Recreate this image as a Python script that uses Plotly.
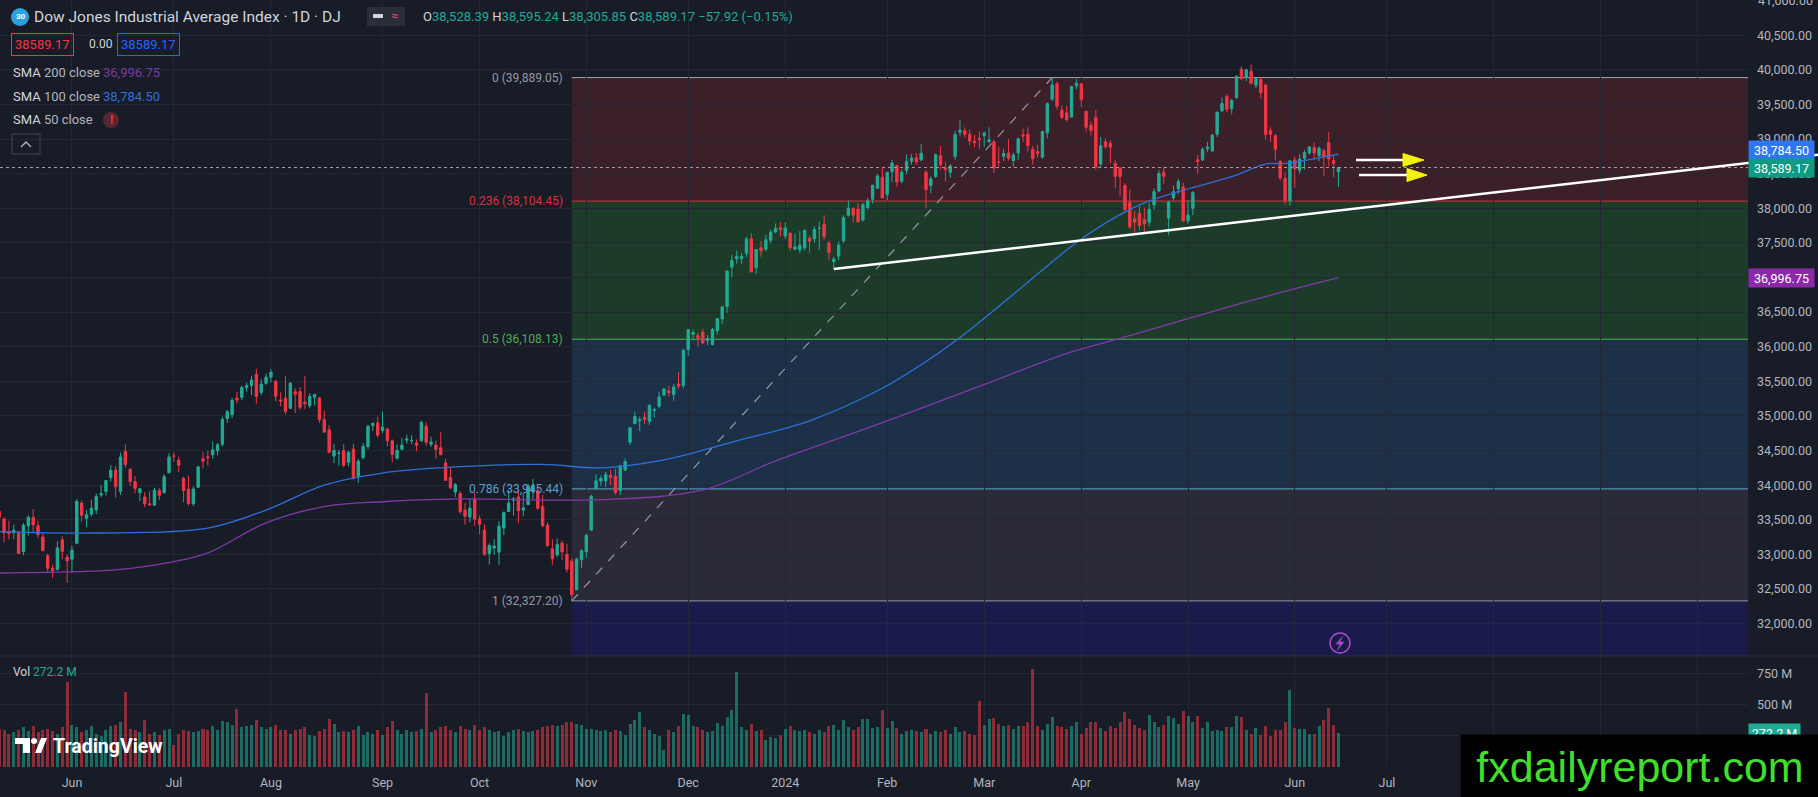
import pandas as pd
import plotly.graph_objects as go

# canvas / plot area in pixels
W, H = 1818, 797
PW, PH = 1748, 767

BG = "#181c27"
GRID = "#232734"
AXIS_TXT = "#b2b5be"
UP = "#22ab94"
DOWN = "#f23645"
FONT = "Roboto, 'Open Sans', sans-serif"

# ---- data -----------------------------------------------------------------
holidays = ["2023-05-29", "2023-06-19", "2023-07-04", "2023-09-04", "2023-11-23",
            "2023-12-25", "2024-01-01", "2024-01-15", "2024-02-19", "2024-03-29",
            "2024-05-27"]
future_holidays = ["2024-06-19", "2024-07-04", "2024-09-02"]

opens = [
    33620, 33511, 33328, 33314, 33310, 33042, 33412, 33533, 33412, 33250, 32980, 32800, 32780, 33210, 32960,
    32930, 33160, 33740, 33520, 33580, 33640, 33860, 33910, 34110, 34220, 33910, 34490, 34230, 34050, 33890, 33830, 33730, 33710, 33920, 33890, 34180,
    34420, 34360, 34100, 33940, 33730, 33970, 34380, 34410, 34440, 34500, 34590, 34960, 35020, 35260, 35270, 35410, 35440, 35600, 35340, 35470,
    35560, 35500, 35230, 35260, 35110, 35350, 35350, 35200, 35150, 35270, 35260, 34950, 34800, 34420, 34460, 34500, 34330, 34520, 34120, 34400, 34560, 34860, 34900,
    34790, 34810, 34640, 34390, 34520, 34650, 34640, 34610, 34640, 34850, 34590, 34580, 34540, 34320, 34110, 33900, 33880, 33640, 33540, 33800,
    33510, 33350, 33010, 33090, 33030, 33380, 33620, 33780, 33830, 33640, 33720, 33900, 33920, 33690, 33420, 33080, 32990, 33160, 33000, 32900, 32490, 32920,
    33040, 33350, 33950, 34060, 34060, 34140, 34130, 33920, 34220, 34620, 34890, 34930, 34980, 34920, 35080, 35140, 35300, 35360, 35310, 35460, 35440,
    35960, 36180, 36160, 36210, 36090, 36030, 36230, 36400, 36580, 37150, 37270, 37270, 37350, 37560, 37140, 37430, 37410, 37540, 37660, 37720,
    37600, 37640, 37410, 37400, 37430, 37570, 37560, 37710, 37770, 37500, 37230, 37310, 37530, 37900, 38000, 37990, 37830, 38010, 38130, 38290, 38450,
    38200, 38530, 38620, 38390, 38550, 38680, 38730, 38700, 38520, 38330, 38460, 38760, 38580, 38520, 38750, 39100, 39120, 39070, 38970, 39010,
    39050, 38960, 38960, 38670, 38750, 38800, 38690, 38800, 39060, 39070, 38850, 38820, 38740, 39090, 39580, 39800, 39420, 39380, 39320, 39770,
    39800, 39400, 39200, 39310, 38640, 38960, 38940, 38650, 38580, 38330, 38080, 37850, 37930, 37840, 37800, 38050, 38250, 38520, 37860, 38150, 38280, 38310,
    37820, 38000, 38700, 38700, 38860, 38830, 39070, 39410, 39620, 39440, 39600, 40010, 39890, 39980, 39780, 39860, 39780, 39120, 39050, 38680, 38430, 38110,
    38700, 38550, 38720, 38800, 38880, 38760, 38830, 38950, 38690, 38528.39,
]
highs = [
    33645, 33538, 33487, 33430, 33342, 33453, 33565, 33655, 33485, 33310, 33010, 32855, 33190, 33260, 33000,
    33120, 33800, 33780, 33640, 33790, 33880, 34000, 34070, 34290, 34280, 34470, 34590, 34240, 34130, 33960, 33900, 33910, 33960, 33960, 34160, 34460,
    34470, 34410, 34120, 34140, 33980, 34280, 34480, 34500, 34630, 34610, 34990, 35090, 35260, 35350, 35440, 35480, 35580, 35680, 35530, 35610,
    35680, 35520, 35340, 35580, 35490, 35400, 35420, 35580, 35330, 35320, 35270, 35080, 34870, 34600, 34510, 34590, 34500, 34600, 34380, 34610, 34870, 34910, 34990,
    35070, 34830, 34660, 34590, 34680, 34730, 34720, 34660, 34930, 34910, 34700, 34640, 34770, 34380, 34250, 34030, 33910, 33740, 33800, 33890,
    33560, 33430, 33160, 33220, 33480, 33620, 33930, 33830, 33930, 33890, 34020, 34090, 33980, 33860, 33460, 33220, 33230, 33200, 33150, 32950, 32950, 33070,
    33300, 33860, 34160, 34140, 34190, 34220, 34240, 34290, 34390, 34840, 35060, 34990, 35060, 35170, 35120, 35350, 35400, 35430, 35460, 35630, 35960,
    36260, 36250, 36200, 36260, 36170, 36270, 36410, 36580, 37110, 37330, 37390, 37360, 37590, 37640, 37410, 37530, 37620, 37690, 37780, 37800,
    37800, 37650, 37630, 37670, 37690, 37600, 37740, 37810, 37900, 37530, 37300, 37520, 37900, 38110, 38010, 38070, 38080, 38150, 38340, 38500, 38580,
    38530, 38700, 38630, 38560, 38780, 38780, 38800, 38930, 38550, 38460, 38790, 38900, 38670, 38640, 39120, 39280, 39170, 39140, 39060, 39110,
    39110, 39170, 38990, 38890, 38860, 39000, 38800, 39020, 39150, 39170, 38900, 38920, 39120, 39530, 39889.05, 39830, 39490, 39480, 39770, 39870,
    39810, 39410, 39260, 39420, 39030, 39010, 38980, 38700, 38600, 38360, 38270, 37960, 38030, 38010, 38080, 38290, 38550, 38600, 38110, 38330, 38430, 38370,
    38120, 38250, 38772, 38880, 38960, 39080, 39400, 39600, 39650, 39580, 39920, 40051, 40010, 40080, 39880, 39900, 39800, 39170, 39070, 38690, 38530, 38690,
    38750, 38780, 38840, 38900, 38950, 38900, 38860, 39100, 38760, 38595.24,
]
lows = [
    33302, 33175, 33218, 33216, 33006, 32988, 33272, 33310, 33235, 33040, 32750, 32660, 32770, 32930, 32586,
    32735, 33150, 33470, 33390, 33550, 33580, 33830, 33850, 34050, 33820, 33860, 34250, 33990, 33880, 33770, 33680, 33710, 33700, 33780, 33880, 34170,
    34340, 34190, 33750, 33700, 33700, 33960, 34240, 34280, 34380, 34430, 34560, 34900, 34970, 35180, 35230, 35350, 35300, 35180, 35300, 35450,
    35480, 35210, 35140, 35020, 35100, 35040, 35090, 35100, 35110, 35150, 34900, 34760, 34460, 34320, 34280, 34260, 34270, 34080, 34030, 34370, 34520, 34780, 34690,
    34750, 34560, 34330, 34370, 34500, 34600, 34590, 34490, 34630, 34570, 34550, 34380, 34430, 34060, 33940, 33830, 33590, 33430, 33460, 33410,
    33290, 32980, 32850, 32990, 32850, 33280, 33610, 33560, 33450, 33550, 33710, 33800, 33640, 33390, 33110, 32850, 32960, 32920, 32740, 32327.2, 32480, 32800,
    32950, 33340, 33930, 33990, 33970, 34000, 33860, 33860, 34200, 34580, 34880, 34780, 34880, 34870, 34980, 35110, 35290, 35280, 35220, 35390, 35400,
    35870, 36090, 36000, 36040, 36020, 36020, 36180, 36330, 36490, 37000, 37200, 37190, 37300, 37080, 37050, 37300, 37380, 37490, 37640, 37590,
    37560, 37390, 37400, 37350, 37390, 37360, 37500, 37400, 37540, 37250, 37122, 37250, 37500, 37880, 37800, 37790, 37810, 37980, 38070, 38280, 38150,
    38110, 38380, 38310, 38360, 38490, 38630, 38630, 38680, 38000, 38220, 38440, 38560, 38390, 38440, 38700, 39040, 39020, 38910, 38880, 38860,
    38890, 38950, 38510, 38600, 38680, 38690, 38600, 38700, 38960, 38820, 38630, 38730, 38720, 39010, 39550, 39430, 39290, 39260, 39310, 39720,
    39460, 39110, 39050, 38560, 38590, 38860, 38650, 38290, 38180, 37950, 37700, 37610, 37680, 37650, 37740, 37980, 38230, 38350, 37611, 38110, 38210, 37810,
    37780, 37900, 38500, 38680, 38810, 38810, 39030, 39390, 39390, 39360, 39580, 39860, 39840, 39790, 39740, 39580, 38990, 38960, 38690, 38400, 38050, 38040,
    38300, 38500, 38560, 38770, 38700, 38680, 38460, 38610, 38450, 38305.85,
]
closes = [
    33531, 33309, 33300, 33348, 33012, 33420, 33535, 33427, 33286, 33056, 32800, 32764, 33093, 33043, 32908,
    33061, 33763, 33563, 33573, 33665, 33834, 33877, 34066, 34212, 33979, 34408, 34299, 34053, 33952, 33947, 33727, 33714, 33927, 33853, 34122, 34408,
    34418, 34288, 33922, 33734, 33944, 34262, 34347, 34395, 34509, 34585, 34952, 35061, 35225, 35228, 35411, 35438, 35520, 35283, 35459, 35560,
    35630, 35283, 35216, 35066, 35473, 35315, 35124, 35176, 35281, 35308, 34946, 34766, 34474, 34500, 34464, 34289, 34473, 34099, 34346, 34559, 34852, 34890, 34722,
    34838, 34642, 34443, 34501, 34577, 34664, 34646, 34576, 34907, 34618, 34624, 34518, 34441, 34070, 33964, 34007, 33618, 33550, 33667, 33508,
    33433, 33002, 33129, 33120, 33407, 33604, 33739, 33804, 33631, 33670, 33985, 33997, 33665, 33414, 33127, 32937, 33141, 33036, 32785, 32418, 32929, 33053,
    33275, 33840, 34061, 34096, 34153, 34112, 33892, 34283, 34338, 34828, 34992, 34945, 34947, 35151, 35088, 35273, 35390, 35334, 35417, 35430, 35951,
    36246, 36204, 36124, 36054, 36117, 36248, 36404, 36578, 37090, 37248, 37306, 37306, 37557, 37082, 37405, 37386, 37545, 37657, 37710, 37690,
    37715, 37430, 37440, 37466, 37683, 37525, 37695, 37711, 37593, 37361, 37267, 37469, 37863, 38002, 37905, 37807, 38050, 38109, 38333, 38467, 38150,
    38519, 38654, 38380, 38521, 38677, 38726, 38672, 38797, 38273, 38424, 38773, 38628, 38564, 38612, 39069, 39131, 39069, 38972, 38949, 38996,
    39087, 38990, 38585, 38661, 38791, 38723, 38770, 39005, 39043, 38906, 38715, 38790, 39110, 39512, 39781, 39476, 39314, 39282, 39760, 39807,
    39567, 39170, 39127, 38597, 38904, 38892, 38884, 38461, 38459, 37983, 37735, 37799, 37753, 37775, 37986, 38240, 38503, 38461, 38086, 38240, 38386, 37816,
    37903, 38226, 38676, 38852, 38884, 39056, 39388, 39513, 39432, 39558, 39908, 39870, 40003, 39807, 39873, 39671, 39065, 39070, 38853, 38442, 38112, 38686,
    38571, 38711, 38807, 38886, 38799, 38868, 38747, 38712, 38647, 38589.17,
]
volumes_m = [
    310, 300, 270, 280, 300, 320, 290, 330, 280, 300, 310, 290, 270, 320, 685,
    340, 320, 280, 300, 330, 270, 250, 300, 330, 340, 360, 605, 310, 300, 280, 375, 270, 280, 260, 300, 310,
    180, 270, 300, 290, 280, 290, 310, 300, 330, 300, 370, 360, 340, 470, 320, 330, 340, 380, 320, 310,
    320, 340, 300, 300, 270, 300, 310, 320, 260, 250, 290, 310, 390, 350, 280, 290, 280, 300, 330, 260, 280, 270, 300,
    260, 320, 370, 300, 270, 300, 280, 290, 310, 595, 280, 300, 320, 330, 300, 280, 330, 310, 300, 340,
    300, 320, 300, 280, 290, 250, 280, 300, 310, 290, 280, 290, 300, 320, 330, 340, 330, 340, 360, 365, 350, 340,
    310, 305, 300, 290, 300, 280, 300, 290, 260, 350, 380, 443, 320, 300, 270, 250, 140, 300, 280, 330, 430,
    420, 330, 320, 300, 280, 290, 355, 330, 400, 460, 766, 320, 300, 350, 290, 300, 220, 240, 230, 260,
    310, 330, 300, 290, 300, 280, 270, 300, 280, 330, 340, 300, 380, 320, 300, 320, 390, 390, 314, 320, 457,
    314, 370, 314, 268, 290, 300, 290, 280, 310, 270, 290, 280, 300, 270, 320, 280, 290, 270, 260, 530,
    340, 390, 395, 350, 330, 340, 310, 330, 330, 360, 787, 330, 300, 350, 400, 330, 320, 310, 330, 360,
    268, 314, 363, 360, 314, 290, 330, 314, 360, 443, 389, 341, 314, 301, 422, 360, 322, 341, 411, 395, 344, 451,
    411, 360, 411, 314, 363, 290, 295, 290, 322, 322, 411, 403, 295, 268, 314, 260, 330, 247, 295, 295, 363, 618,
    314, 306, 309, 268, 268, 330, 376, 475, 341, 272.2,
]

sma100_dates = ["2023-05-10", "2023-06-08", "2023-07-13", "2023-07-31", "2023-08-16", "2023-09-01",
                "2023-09-20", "2023-10-19", "2023-11-06", "2023-11-27", "2023-12-15", "2024-01-09",
                "2024-01-31", "2024-02-15", "2024-02-27", "2024-03-13", "2024-03-28", "2024-04-09",
                "2024-04-18", "2024-04-29", "2024-05-14", "2024-05-23", "2024-05-30", "2024-06-14"]
sma100_values = [33330, 33308, 33380, 33640, 34000, 34175, 34250, 34300, 34250, 34380, 34640, 34930,
                 35400, 35880, 36240, 36875, 37505, 37830, 38078, 38240, 38457, 38640, 38650, 38784.50]

sma200_dates = ["2023-05-10", "2023-06-02", "2023-06-14", "2023-07-03", "2023-07-13", "2023-07-31",
                "2023-08-16", "2023-09-01", "2023-09-26", "2023-11-06", "2023-12-06", "2023-12-28",
                "2024-01-22", "2024-02-09", "2024-03-04", "2024-03-25", "2024-04-11", "2024-05-22",
                "2024-06-14"]
sma200_values = [32730, 32750, 32775, 32895, 33020, 33455, 33690, 33760, 33800, 33790, 33930, 34350,
                 34725, 35085, 35480, 35880, 36120, 36705, 36996.75]

month_ticks = ["2023-06-01", "2023-07-03", "2023-08-01", "2023-09-01", "2023-10-02", "2023-11-01",
               "2023-12-01", "2024-01-02", "2024-02-01", "2024-03-01", "2024-04-01", "2024-05-01",
               "2024-06-03", "2024-07-01", "2024-08-01", "2024-09-03", "2024-10-01"]
# last three months sit under the watermark box in the reference
month_labels = ["Jun", "Jul", "Aug", "Sep", "Oct", "Nov", "Dec", "2024", "Feb", "Mar", "Apr", "May",
                "Jun", "Jul", "", "", ""]

fib_ratios = ["0", "0.236", "0.5", "0.786", "1"]
fib_prices = [39889.05, 38104.45, 36108.13, 33945.44, 32327.20]
fib_start, fib_end = "2023-10-27", "2024-03-21"

trend_start = ("2024-01-17", 37122)
trend_end = ("2024-10-15 21:40", 38654)

last_price = 38589.17
sma100_last = 38784.50
sma200_last = 36996.75
last_volume = 272.2

# ---- helpers --------------------------------------------------------------
def noon(d):
    return d + " 12:00"

def px(x):
    return x / PW

def py(y):
    return (PH - y) / PH


days = [d.strftime("%Y-%m-%d") for d in pd.bdate_range("2023-05-10", "2024-06-14")
        if d.strftime("%Y-%m-%d") not in holidays]
n = min(len(days), len(opens), len(highs), len(lows), len(closes), len(volumes_m))
xs = [noon(d) for d in days[:n]]

fig = go.Figure()

fig.add_trace(go.Candlestick(
    x=xs, open=opens[:n], high=highs[:n], low=lows[:n], close=closes[:n],
    increasing=dict(line=dict(color=UP, width=1), fillcolor=UP),
    decreasing=dict(line=dict(color=DOWN, width=1), fillcolor=DOWN),
    whiskerwidth=0, hoverinfo="skip", xaxis="x", yaxis="y", showlegend=False))

fig.add_trace(go.Scatter(x=[noon(d) for d in sma200_dates], y=sma200_values, mode="lines",
                         line=dict(color="#7e3aa6", width=1.3, shape="spline"),
                         hoverinfo="skip", showlegend=False))
fig.add_trace(go.Scatter(x=[noon(d) for d in sma100_dates], y=sma100_values, mode="lines",
                         line=dict(color="#2f6fdc", width=1.3, shape="spline"),
                         hoverinfo="skip", showlegend=False))

vol_colors = ["rgba(34,171,148,0.55)" if c >= o else "rgba(242,54,69,0.55)"
              for o, c in zip(opens[:n], closes[:n])]
fig.add_trace(go.Bar(x=xs, y=[v * 1e6 for v in volumes_m[:n]], marker_color=vol_colors,
                     marker_line_width=0, width=0.62 * 86400000, xaxis="x", yaxis="y2",
                     hoverinfo="skip", showlegend=False))

shapes = []
# fib bands
band_colors = ["#3b1f29", "#1c3c29", "#1c3148", "#2a2b36"]
for i, col in enumerate(band_colors):
    shapes.append(dict(type="rect", xref="x", yref="y", x0=noon(fib_start), x1="2025-03-01",
                       y0=fib_prices[i + 1], y1=fib_prices[i], fillcolor=col, line_width=0,
                       layer="below"))
shapes.append(dict(type="rect", xref="x", yref="y", x0=noon(fib_start), x1="2025-03-01",
                   y0=30000, y1=fib_prices[-1], fillcolor="#1b1b4b", line_width=0, layer="below"))
fib_line_colors = ["#a3a6af", "#d6323f", "#4caf50", "#5aa9d8", "#9598a1"]
fib_text_colors = ["#9598a1", "#d6323f", "#4caf50", "#5a9fd0", "#9598a1"]
for p, col in zip(fib_prices, fib_line_colors):
    shapes.append(dict(type="line", xref="x", yref="y", x0=noon(fib_start), x1="2025-03-01",
                       y0=p, y1=p, line=dict(color=col, width=1), layer="below"))

# diagonal fib guide
shapes.append(dict(type="line", xref="x", yref="y", x0=noon(fib_start), y0=fib_prices[-1],
                   x1=noon(fib_end), y1=fib_prices[0],
                   line=dict(color="#9598a1", width=1.2, dash="dash"), layer="above"))

# last price dotted line
shapes.append(dict(type="line", xref="paper", yref="y", x0=0, x1=1, y0=last_price, y1=last_price,
                   line=dict(color="#9ea1aa", width=1, dash="dot"), layer="above"))

# white support trendline (plus the bit that runs over the price scale)
shapes.append(dict(type="line", xref="x", yref="y", x0=noon(trend_start[0]), y0=trend_start[1],
                   x1=trend_end[0], y1=trend_end[1], line=dict(color="white", width=2.5),
                   layer="above"))
shapes.append(dict(type="line", xref="paper", yref="y", x0=1, y0=trend_end[1],
                   x1=px(W), y1=38773, line=dict(color="white", width=2.5), layer="above"))

# two pointer arrows (white shaft, yellow head)
for yv, xa, xb, xt in [(38698, 1356, 1405, 1424), (38481, 1359, 1409, 1427)]:
    shapes.append(dict(type="line", xref="paper", yref="y", x0=px(xa), x1=px(xb), y0=yv, y1=yv,
                       line=dict(color="white", width=2.5), layer="above"))
    h = 6.5 * 14.45
    shapes.append(dict(type="path", xref="paper", yref="y",
                       path=f"M {px(xb - 2)},{yv - h} L {px(xt)},{yv} L {px(xb - 2)},{yv + h} Z",
                       fillcolor="#f2f20e", line=dict(color="#f2f20e", width=1), layer="above"))

# pane separator
shapes.append(dict(type="line", xref="paper", yref="paper", x0=0, x1=px(W), y0=py(656), y1=py(656),
                   line=dict(color="#2a2e39", width=1)))

# legend icons
shapes.append(dict(type="circle", xref="paper", yref="paper", x0=px(11), x1=px(29),
                   y0=py(26), y1=py(8), fillcolor="#2aa3dc", line_width=0))
shapes.append(dict(type="rect", xref="paper", yref="paper", x0=px(367), x1=px(405),
                   y0=py(26), y1=py(7), fillcolor="#2a2e39", line_width=0))
shapes.append(dict(type="rect", xref="paper", yref="paper", x0=px(373), x1=px(383),
                   y0=py(18), y1=py(14), fillcolor="#d1d4dc", line_width=0))
shapes.append(dict(type="circle", xref="paper", yref="paper", x0=px(103), x1=px(119),
                   y0=py(128), y1=py(112), fillcolor="#5a2530", line_width=0))
shapes.append(dict(type="rect", xref="paper", yref="paper", x0=px(12), x1=px(40),
                   y0=py(154), y1=py(134), line=dict(color="#434651", width=1)))
shapes.append(dict(type="path", xref="paper", yref="paper",
                   path=f"M {px(21)},{py(147)} L {px(26)},{py(142)} L {px(31)},{py(147)}",
                   line=dict(color="#b2b5be", width=1.3)))

# TradingView logo mark
shapes.append(dict(type="path", xref="paper", yref="paper",
                   path=(f"M {px(15)},{py(738)} L {px(30)},{py(738)} L {px(30)},{py(753)} "
                         f"L {px(23)},{py(753)} L {px(23)},{py(744)} L {px(15)},{py(744)} Z"),
                   fillcolor="white", line_width=0))
shapes.append(dict(type="circle", xref="paper", yref="paper", x0=px(31), x1=px(37),
                   y0=py(744), y1=py(738), fillcolor="white", line_width=0))
shapes.append(dict(type="path", xref="paper", yref="paper",
                   path=(f"M {px(35)},{py(753)} L {px(41)},{py(738)} L {px(47)},{py(738)} "
                         f"L {px(41)},{py(753)} Z"),
                   fillcolor="white", line_width=0))

# lightning icon: circle + bolt
shapes.append(dict(type="circle", xref="paper", yref="paper", x0=px(1330), x1=px(1350),
                   y0=py(653), y1=py(633), line=dict(color="#a54cc9", width=1.5)))
bolt = [(1342.5, 636.5), (1336, 644), (1340, 644), (1337.5, 650), (1344, 642), (1340, 642)]
shapes.append(dict(type="path", xref="paper", yref="paper",
                   path="M " + " L ".join(f"{px(a)},{py(b)}" for a, b in bolt) + " Z",
                   fillcolor="#a54cc9", line=dict(color="#a54cc9", width=0.5)))

annotations = []

def note(text, x, y, size=13, color="#d1d4dc", **kw):
    d = dict(text=text, x=px(x), y=py(y), xref="paper", yref="paper", xanchor="left",
             yanchor="middle", showarrow=False, font=dict(size=size, color=color, family=FONT))
    d.update(kw)
    annotations.append(d)

# fib labels
for r, p, col in zip(fib_ratios, fib_prices, fib_text_colors):
    annotations.append(dict(text=f"{r} ({p:,.2f})", x=noon(fib_start), y=p, xref="x", yref="y",
                            xanchor="right", yanchor="middle", xshift=-7, showarrow=False,
                            font=dict(size=12, color=col, family=FONT)))

# top-left legend
note("<b>30</b>", 13.5, 17, size=8, color="white")
note("Dow Jones Industrial Average Index · 1D · DJ", 32, 17, size=15.5, color="#d1d4dc")
note("≈", 389, 16, size=13, color="#e0457b")
vals = [("O", "38,528.39"), ("H", "38,595.24"), ("L", "38,305.85"), ("C", "38,589.17")]
ohlc = " ".join(f"<span style='color:#d1d4dc'>{k}</span><span style='color:{UP}'>{v}</span>"
                for k, v in vals)
ohlc += f" <span style='color:{UP}'>−57.92 (−0.15%)</span>"
note(ohlc, 421, 17, size=13)
note(f"{last_price:.2f}", 11, 44, size=13, color=DOWN, bordercolor=DOWN, borderwidth=1, borderpad=3)
note("0.00", 87, 44, size=12, color="#d1d4dc")
note(f"{last_price:.2f}", 117, 44, size=13, color="#2962ff", bordercolor="#2962ff", borderwidth=1,
     borderpad=3)
note("SMA <span style='color:#b2b5be'>200 close</span>", 11, 73, size=13)
note(f"{sma200_last:,.2f}", 101, 73, size=13, color="#7b3aa3")
note("SMA <span style='color:#b2b5be'>100 close</span>", 11, 97, size=13)
note(f"{sma100_last:,.2f}", 101, 97, size=13, color="#2f6fdc")
note("SMA <span style='color:#b2b5be'>50 close</span>", 11, 120, size=13)
note("<b>!</b>", 108, 120, size=12, color=DOWN)

# volume legend
note("Vol <span style='color:#22ab94'>272.2 M</span>", 11, 672, size=12, color="#d1d4dc")

# TradingView wordmark
note("<b>TradingView</b>", 51, 746, size=19.5, color="white")

# top price label that is cut by the window edge
annotations.append(dict(text="41,000.00", x=1, y=41000, xref="paper", yref="y", xanchor="left",
                        yanchor="middle", xshift=8, showarrow=False,
                        font=dict(size=12.5, color=AXIS_TXT, family=FONT)))

# right scale value tags
def tag(text, yv, bg, yref="y", yshift=0, width=62):
    annotations.append(dict(text=text, x=1, y=yv, xref="paper", yref=yref, xanchor="left",
                            yanchor="middle", showarrow=False, bgcolor=bg, width=width,
                            borderpad=1.5, yshift=yshift, align="center",
                            font=dict(size=12.5, color="white", family=FONT)))

tag(f"{sma100_last:,.2f}", sma100_last, "#2f76f0", yshift=4)
tag(f"{last_price:,.2f}", last_price, "#0f9a83")
tag(f"{sma200_last:,.2f}", sma200_last, "#8a2aaa")
tag(f"{last_volume} M", last_volume * 1e6, "#22ab94", yref="y2", width=48)

# watermark box (drawn last so it sits on top)
annotations.append(dict(text="fxdailyreport.com", x=px(1460), y=py(734), xref="paper",
                        yref="paper", xanchor="left", yanchor="top", showarrow=False,
                        width=358, height=63, bgcolor="black", borderpad=0, align="center",
                        valign="middle",
                        font=dict(size=43, color="#3fdf2b", family="Liberation Sans, Arial")))

x_start = "2023-05-10 16:00"
x_end = "2024-10-15 21:40"

fig.update_layout(
    width=W, height=H,
    margin=dict(l=0, r=W - PW, t=0, b=H - PH),
    paper_bgcolor=BG, plot_bgcolor=BG,
    font=dict(family=FONT, color=AXIS_TXT),
    showlegend=False, hovermode=False, bargap=0,
    shapes=shapes, annotations=annotations,
    xaxis=dict(type="date", range=[x_start, x_end], anchor="y2", domain=[0, 1],
               rangebreaks=[dict(bounds=["sat", "mon"]), dict(values=holidays + future_holidays)],
               tickvals=[noon(d) for d in month_ticks], ticktext=month_labels,
               showgrid=True, gridcolor=GRID, gridwidth=1, zeroline=False, showline=False,
               ticks="", ticklabelstandoff=6, tickfont=dict(size=12.5, color=AXIS_TXT),
               rangeslider=dict(visible=False), fixedrange=True),
    yaxis=dict(domain=[py(656), 1], range=[31531, 41010], side="right", anchor="x",
               tickvals=list(range(32000, 41000, 500)), tickformat=",.2f",
               showgrid=True, gridcolor=GRID, zeroline=False, showline=False, ticks="",
               ticklabelstandoff=8, tickfont=dict(size=12.5, color=AXIS_TXT), fixedrange=True),
    yaxis2=dict(domain=[0, py(656)], range=[0, 895e6], side="right", anchor="x",
                tickvals=[250e6, 500e6, 750e6], ticktext=["250 M", "500 M", "750 M"],
                showgrid=True, gridcolor=GRID, zeroline=False, showline=False, ticks="",
                ticklabelstandoff=8, tickfont=dict(size=12.5, color=AXIS_TXT), fixedrange=True),
)

# drop the browser's default page margin so the chart sits at the window corner
page_css = ("document.body.style.margin='0';document.body.style.overflow='hidden';"
            "document.body.style.background='" + BG + "';")
fig.write_html("out.html", post_script=page_css, config={"displayModeBar": False})
